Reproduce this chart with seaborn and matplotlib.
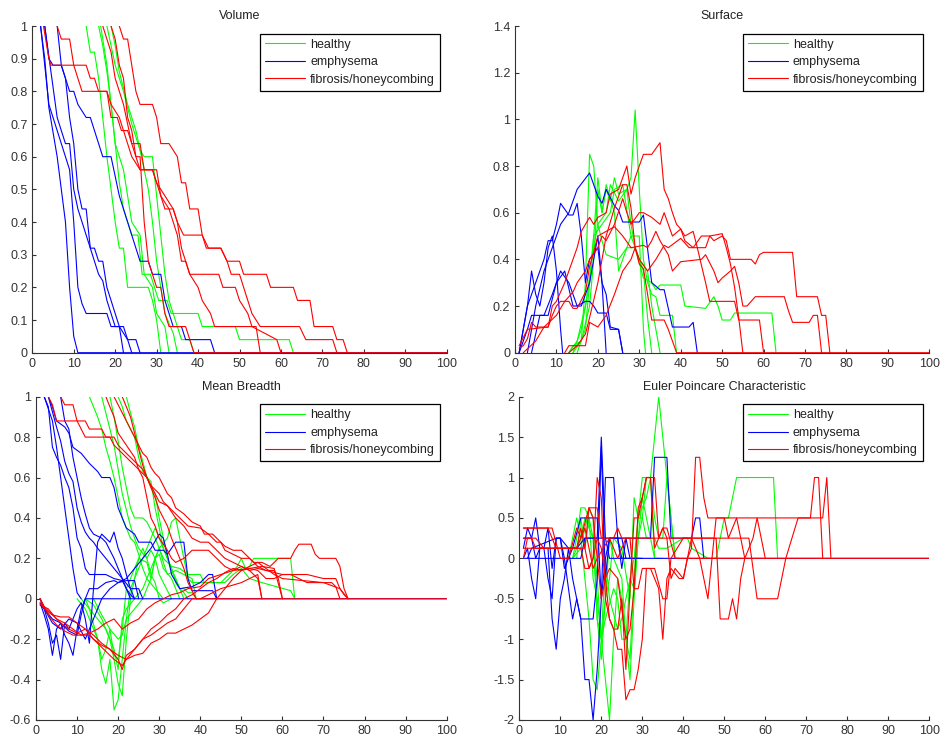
import matplotlib
matplotlib.use("Agg")
import matplotlib.pyplot as plt
import pandas as pd
import seaborn as sns
from matplotlib.lines import Line2D
from matplotlib.ticker import FuncFormatter

CLASSES = ["healthy", "emphysema", "fibrosis/honeycombing"]
COLORS = ["#00ff00", "#0000ff", "#ff0000"]

# each curve is a list of (threshold, value) vertices
VOLUME_HEALTHY = [
    [(13, 1), (14, 0.92), (15, 0.92), (16, 0.84), (17, 0.72), (18, 0.6), (19, 0.5), (20, 0.4), (21, 0.32), (22, 0.32), (23, 0.2), (28, 0.2), (29, 0.16), (30, 0.1), (31, 0)],
    [(16, 1), (17, 0.94), (18, 0.86), (19, 0.76), (20, 0.64), (21, 0.52), (22, 0.44), (23, 0.4), (24, 0.36), (25.5, 0.36), (26.5, 0.24), (28.5, 0.24), (30.5, 0.16), (32.5, 0.16), (33.5, 0.12), (40, 0.12), (41, 0.08), (49, 0.08), (50, 0.04), (62, 0.04), (63, 0)],
    [(16.5, 1), (18, 0.88), (19, 0.76), (20, 0.64), (22, 0.56), (23, 0.48), (24, 0.4), (26, 0.36), (27, 0.24), (29, 0.2), (30, 0.12), (32, 0.08), (33, 0)],
    [(19, 1), (20, 0.94), (21, 0.86), (23, 0.76), (25, 0.68), (26, 0.62), (27, 0.6), (29, 0.6), (30, 0.48), (31, 0.36), (32, 0.24), (33, 0.16), (34, 0.12), (35, 0.08), (36, 0.04), (38, 0.04), (39, 0)],
    [(18, 1), (19, 0.94), (20, 0.88), (22, 0.8), (24, 0.7), (26, 0.62), (28, 0.5), (29, 0.4), (30, 0.28), (31, 0.2), (32, 0.12), (34, 0.06), (35, 0)],
]
VOLUME_EMPHYSEMA = [
    [(2, 1), (3, 0.9), (4, 0.75), (6, 0.6), (8, 0.4), (9, 0.2), (10, 0.05), (11, 0), (100, 0)],
    [(2, 1), (4, 0.76), (5, 0.72), (7, 0.64), (9, 0.56), (10, 0.4), (11, 0.2), (12, 0.15), (13, 0.12), (18, 0.12), (19, 0.08), (21, 0.08), (22, 0)],
    [(3, 1), (4, 0.9), (5, 0.88), (7, 0.88), (8, 0.84), (9, 0.8), (10, 0.8), (11, 0.76), (13, 0.72), (14, 0.72), (16, 0.64), (17, 0.6), (19, 0.6), (21, 0.48), (22, 0.44), (23, 0.4), (24, 0.36), (25, 0.32), (26, 0.28), (28, 0.28), (29, 0.24), (31, 0.24), (32, 0.16), (33, 0.12), (34, 0.08), (36, 0.08), (37, 0.04), (43, 0.04), (44, 0)],
    [(6, 1), (7, 0.88), (8, 0.84), (9, 0.72), (10, 0.64), (11, 0.5), (12, 0.44), (13, 0.44), (14, 0.32), (15, 0.32), (16, 0.28), (17, 0.28), (18, 0.2), (19, 0.16), (20, 0.12), (21, 0.08), (23, 0.04), (24, 0)],
    [(3, 1), (6, 0.72), (8, 0.64), (9, 0.64), (10, 0.5), (11, 0.44), (12, 0.4), (14, 0.32), (15, 0.28), (16, 0.24), (17, 0.22), (18, 0.16), (20, 0.08), (22, 0.08), (23, 0.04), (25, 0.04), (26, 0)],
]
VOLUME_FIBROSIS = [
    [(2.7, 1), (4, 0.9), (4.5, 0.88), (13, 0.88), (14, 0.84), (15, 0.84), (16, 0.8), (18, 0.8), (19, 0.72), (20.5, 0.72), (21.5, 0.68), (23, 0.68), (24, 0.64), (26, 0.64), (27, 0.56), (29, 0.56), (30, 0.52), (32, 0.48), (34, 0.44), (35, 0.4), (36.5, 0.36), (41, 0.36), (42.5, 0.32), (45.5, 0.32), (47, 0.28), (48, 0.24), (50, 0.24), (51, 0.2), (52, 0.16), (53, 0.12), (55, 0.08), (64.5, 0.08), (66, 0.04), (72.5, 0.04), (73.5, 0)],
    [(6, 1), (7, 0.96), (9, 0.96), (10, 0.88), (11, 0.84), (12, 0.8), (18, 0.8), (19, 0.76), (21, 0.72), (22, 0.68), (23, 0.64), (24, 0.6), (26, 0.56), (29, 0.56), (30, 0.52), (31, 0.48), (33, 0.44), (34, 0.4), (35, 0.36), (36, 0.28), (37, 0.28), (38, 0.24), (45, 0.24), (46, 0.2), (49, 0.2), (50, 0.16), (52, 0.12), (53, 0.08), (59, 0.04), (60, 0)],
    [(21, 1), (22, 0.96), (23, 0.96), (24, 0.88), (25, 0.8), (26, 0.76), (29, 0.76), (30, 0.72), (31, 0.64), (33, 0.64), (35, 0.6), (36, 0.52), (37, 0.52), (38, 0.44), (40, 0.44), (41, 0.36), (42, 0.32), (45.5, 0.32), (47, 0.28), (50, 0.28), (51, 0.24), (56.5, 0.24), (57.5, 0.2), (63, 0.2), (64, 0.16), (67, 0.16), (68, 0.08), (72.5, 0.08), (73.5, 0.04), (75, 0.04), (76, 0)],
    [(17, 1), (18, 0.96), (19, 0.92), (20, 0.84), (21, 0.8), (22, 0.76), (24, 0.64), (25, 0.6), (26, 0.6), (27, 0.4), (28, 0.28), (29, 0.24), (30, 0.2), (31, 0.2), (32, 0.12), (33, 0.08), (37, 0.08), (38, 0.04), (39, 0), (100, 0)],
    [(19, 1), (20, 0.96), (21, 0.88), (22, 0.84), (23, 0.72), (24, 0.68), (25, 0.6), (26, 0.56), (30, 0.56), (31, 0.48), (32, 0.44), (34, 0.44), (35, 0.4), (36, 0.32), (37, 0.28), (38, 0.24), (40, 0.2), (41, 0.16), (43, 0.12), (44, 0.08), (54, 0.08), (55, 0)],
]

SURFACE_HEALTHY = [
    [(13, 0), (14, 0.03), (16, 0.05), (17, 0.3), (18, 0.85), (19, 0.8), (20, 0.55), (21, 0.48), (22, 0.42), (25, 0.4), (27, 0.45), (29, 0.45), (31, 0.32), (33, 0.3), (34, 0.27), (35, 0.29), (40, 0.29), (41, 0.2), (46, 0.19), (48, 0.24), (49, 0.2), (50, 0.14), (52, 0.14), (53, 0.17), (62, 0.17), (63, 0)],
    [(15, 0), (17, 0.1), (18, 0.3), (19, 0.5), (20, 0.75), (21, 0.6), (22, 0.7), (23, 0.65), (24, 0.75), (25, 0.68), (27, 0.7), (28, 0.75), (29, 1.04), (30, 0.7), (31, 0.4), (32, 0.3), (33, 0.25), (34, 0.24), (35, 0.16), (38, 0.16), (39, 0)],
    [(14, 0), (16, 0.05), (18, 0.2), (19, 0.4), (20, 0.7), (21, 0.6), (22, 0.72), (24, 0.6), (25, 0.35), (27, 0.45), (28, 0.5), (30, 0.5), (31, 0.1), (31.5, 0)],
    [(13, 0), (15, 0.05), (17, 0.2), (19, 0.45), (20, 0.55), (22, 0.6), (23, 0.72), (25, 0.65), (27, 0.7), (28, 0.55), (29, 0.45), (31, 0.35), (32, 0.15), (33, 0)],
    [(14, 0), (16, 0.1), (18, 0.3), (19, 0.5), (21, 0.55), (23, 0.6), (24, 0.7), (26, 0.72), (28, 0.5), (30, 0.4), (32, 0.35), (33, 0.2), (34, 0.1), (35, 0)],
]
SURFACE_EMPHYSEMA = [
    [(1, 0), (2, 0.1), (3, 0.2), (4, 0.35), (5, 0.25), (6, 0.2), (7, 0.3), (8, 0.45), (9, 0.5), (10, 0.35), (11, 0.1), (11.5, 0)],
    [(1, 0), (2, 0.05), (3, 0.1), (4, 0.16), (7, 0.16), (9, 0.25), (11, 0.35), (13, 0.3), (15, 0.2), (17, 0.22), (18, 0.22), (19, 0.2), (20, 0.17), (22, 0.17), (23, 0.1), (25, 0.1), (26, 0)],
    [(3, 0), (5, 0.2), (7, 0.35), (9, 0.45), (11, 0.55), (13, 0.6), (15, 0.7), (18, 0.77), (20, 0.67), (21, 0.64), (22, 0.7), (24, 0.63), (25, 0.61), (26, 0.56), (30, 0.56), (31, 0.59), (33, 0.3), (35, 0.27), (36, 0.27), (38, 0.11), (42, 0.11), (43, 0.13), (44, 0)],
    [(4, 0), (6, 0.16), (8, 0.16), (10, 0.3), (12, 0.35), (14, 0.2), (16, 0.2), (18, 0.3), (20, 0.5), (21, 0.3), (22, 0.25), (23, 0.11), (25, 0.1), (26, 0)],
    [(1, 0), (3, 0.2), (5, 0.3), (7, 0.4), (8, 0.48), (9, 0.48), (10, 0.55), (11, 0.64), (13, 0.59), (14, 0.59), (15, 0.64), (16, 0.5), (17, 0.3), (18, 0.4), (20, 0.45), (21, 0.3), (22, 0)],
]
SURFACE_FIBROSIS = [
    [(1, 0.02), (2, 0.03), (3, 0.06), (4, 0.13), (5, 0.11), (8, 0.11), (9, 0.16), (10, 0.2), (11, 0.22), (13, 0.22), (14, 0.19), (15, 0.19), (17, 0.26), (18, 0.37), (19, 0.43), (20, 0.5), (22, 0.52), (24, 0.54), (26, 0.5), (28, 0.45), (31, 0.46), (32, 0.45), (33, 0.48), (34, 0.52), (35, 0.48), (36, 0.45), (37, 0.42), (38, 0.35), (40, 0.39), (45, 0.4), (46, 0.42), (48, 0.35), (49, 0.3), (50, 0.32), (52, 0.35), (53, 0.37), (54, 0.3), (55, 0.2), (56, 0.2), (57, 0.22), (58, 0.24), (65, 0.24), (66, 0.18), (67, 0.13), (71, 0.13), (72, 0.16), (73, 0.16), (74, 0)],
    [(2, 0), (5, 0.05), (7, 0.11), (10, 0.16), (12, 0.22), (14, 0.26), (15, 0.3), (17, 0.35), (18, 0.4), (20, 0.45), (21, 0.5), (22, 0.48), (24, 0.55), (26, 0.66), (27, 0.6), (28, 0.55), (30, 0.6), (31, 0.6), (33, 0.58), (35, 0.55), (36, 0.6), (38, 0.5), (40, 0.53), (41, 0.48), (43, 0.45), (45, 0.5), (47, 0.5), (48, 0.48), (50, 0.5), (51, 0.48), (52, 0.4), (57, 0.4), (58, 0.38), (59, 0.42), (60, 0.43), (67, 0.43), (68, 0.24), (73, 0.24), (74, 0.16), (75, 0.16), (76, 0)],
    [(1, 0.03), (3, 0.1), (8, 0.11), (9, 0.2), (10, 0.22), (12, 0.3), (15, 0.45), (16, 0.52), (18, 0.58), (19, 0.55), (20, 0.58), (22, 0.6), (23, 0.68), (25, 0.7), (27, 0.8), (28, 0.68), (29, 0.75), (30, 0.8), (31, 0.85), (33, 0.85), (35, 0.9), (36, 0.7), (37, 0.66), (38, 0.6), (39, 0.55), (40, 0.53), (41, 0.5), (43, 0.52), (44, 0.45), (46, 0.45), (47, 0.5), (50, 0.51), (51, 0.45), (52, 0.38), (53, 0.28), (54, 0.15), (55, 0)],
    [(12, 0), (13, 0.03), (17, 0.03), (18, 0.13), (20, 0.11), (22, 0.16), (24, 0.25), (26, 0.35), (28, 0.4), (29, 0.45), (30, 0.4), (32, 0.35), (34, 0.4), (36, 0.46), (37, 0.45), (40, 0.49), (42, 0.45), (44, 0.45), (46, 0.3), (47, 0.22), (53, 0.22), (54, 0.14), (59, 0.14), (60, 0)],
    [(13, 0), (15, 0.03), (17, 0.08), (18, 0.15), (20, 0.3), (22, 0.5), (24, 0.62), (26, 0.72), (27, 0.72), (28, 0.62), (29, 0.45), (30, 0.38), (31, 0.36), (33, 0.14), (36, 0.14), (37, 0.1), (38, 0.05), (39, 0), (100, 0)],
]

BREADTH_HEALTHY = [
    [(18, 1), (19, 0.9), (20, 0.78), (21, 0.65), (22, 0.55), (23, 0.45), (24, 0.4), (26, 0.4), (27, 0.38), (29, 0.3), (30, 0.25), (31, 0.2), (33, 0.16), (35, 0.15), (37, 0.12), (40, 0.12), (41, 0.08), (45, 0.08), (47, 0.12), (49, 0.16), (50, 0.2), (51, 0.15), (52, 0.16), (53, 0.2), (62, 0.2), (63, 0)],
    [(16, 1), (17, 0.92), (18, 0.84), (19, 0.76), (20, 0.64), (21, 0.52), (22, 0.44), (23, 0.36), (24, 0.3), (25, 0.25), (27, 0.2), (28, 0.24), (29, 0.2), (30, 0.12), (31, 0.08), (32, 0.04), (33, 0)],
    [(22, 1), (23, 0.92), (24, 0.85), (25, 0.75), (26, 0.68), (27, 0.6), (28, 0.55), (29, 0.52), (30, 0.4), (31, 0.3), (32, 0.2), (33, 0.15), (34, 0.1), (35, 0.05), (36, 0.05), (37, 0.03), (38, 0.03), (39, 0)],
    [(20, 1), (21, 0.95), (22, 0.88), (24, 0.8), (25, 0.7), (26, 0.63), (27, 0.6), (28, 0.58), (29, 0.45), (30, 0.35), (31, 0.25), (32, 0.2), (33, 0.14), (34, 0.1), (35, 0.05), (36, 0)],
    [(13, 1), (14, 0.95), (15, 0.9), (16, 0.84), (17, 0.75), (18, 0.68), (19, 0.6), (20, 0.5), (21, 0.4), (22, 0.35), (23, 0.3), (24, 0.28), (25, 0.22), (26, 0.15), (27, 0.1), (29, 0.05), (31, 0)],
    [(10, 0), (12, -0.05), (14, -0.15), (15, -0.2), (16, -0.35), (17, -0.42), (18, -0.3), (19, -0.55), (20, -0.5), (21, -0.3), (22, -0.1), (23, 0.05), (24, 0.1), (25, 0.15), (26, 0.2), (27, 0.25), (28, 0.3), (29, 0.35), (30, 0.3), (31, 0.25), (32, 0.2), (33, 0.15), (34, 0.08), (35, 0.05), (36, 0.03), (37, 0)],
    [(12, 0), (14, -0.03), (16, -0.1), (18, -0.2), (19, -0.3), (20, -0.42), (21, -0.48), (22, -0.2), (23, 0.0), (24, 0.1), (25, 0.2), (27, 0.18), (28, 0.1), (29, 0.2), (30, 0.22), (31, 0.15), (33, 0.1), (34, 0.05), (35, 0)],
    [(11, 0), (13, -0.05), (15, -0.1), (17, -0.15), (18, -0.2), (19, -0.25), (20, -0.35), (21, -0.1), (22, -0.05), (24, 0.0), (26, 0.05), (28, 0.15), (30, 0.25), (32, 0.3), (33, 0.38), (34, 0.4), (35, 0.3), (36, 0.2), (37, 0.1), (38, 0.08), (46, 0.08), (48, 0.12), (50, 0.15), (52, 0.1), (55, 0.08), (62, 0.04), (63, 0)],
    [(12, 0), (13, -0.05), (15, -0.2), (16, -0.3), (17, -0.25), (18, -0.15), (19, -0.28), (20, -0.3), (21, -0.15), (22, 0.05), (24, 0.15), (25, 0.2), (26, 0.25), (27, 0.2), (28, 0.12), (29, 0.08), (30, 0.0), (31, -0.02), (33, 0)],
    [(14, 0), (16, -0.08), (18, -0.15), (20, -0.2), (21, -0.18), (22, -0.1), (24, -0.05), (26, 0.0), (28, 0.1), (29, 0.2), (30, 0.25), (31, 0.18), (32, 0.12), (34, 0.14), (36, 0.12), (38, 0.1), (39, 0)],
]
BREADTH_EMPHYSEMA = [
    [(2, 1), (4, 0.88), (5, 0.75), (6, 0.6), (7, 0.45), (8, 0.3), (9, 0.15), (10, 0.03), (11, 0)],
    [(2, 1), (3, 0.95), (4, 0.75), (5, 0.7), (6, 0.66), (7, 0.6), (8, 0.55), (9, 0.45), (10, 0.3), (11, 0.25), (12, 0.15), (13, 0.12), (17, 0.12), (19, 0.1), (21, 0.09), (22, 0.05), (23, 0)],
    [(3, 1), (4, 0.95), (5, 0.88), (7, 0.85), (8, 0.82), (9, 0.75), (11, 0.72), (13, 0.67), (15, 0.63), (16, 0.6), (18, 0.6), (19, 0.55), (20, 0.45), (21, 0.4), (22, 0.35), (24, 0.32), (25, 0.28), (28, 0.28), (29, 0.24), (31, 0.24), (32, 0.22), (34, 0.28), (36, 0.28), (37, 0.1), (38, 0.04), (43, 0.04), (44, 0)],
    [(6, 1), (7, 0.88), (8, 0.84), (9, 0.7), (10, 0.6), (11, 0.5), (12, 0.42), (13, 0.35), (14, 0.32), (16, 0.3), (17, 0.28), (18, 0.24), (19, 0.2), (20, 0.15), (21, 0.1), (22, 0.05), (23, 0.02), (24, 0)],
    [(3, 1), (5, 0.85), (6, 0.78), (7, 0.68), (8, 0.62), (9, 0.58), (10, 0.45), (11, 0.38), (12, 0.33), (13, 0.3), (14, 0.28), (15, 0.25), (17, 0.2), (19, 0.15), (21, 0.1), (23, 0.05), (25, 0.05), (26, 0)],
    [(1, -0.02), (2, -0.08), (3, -0.15), (4, -0.28), (5, -0.15), (6, -0.12), (7, -0.18), (8, -0.22), (9, -0.28), (10, -0.15), (11, -0.05), (13, 0.05), (15, 0.05), (17, 0.08), (19, 0.09), (20, 0.08), (22, 0.09), (24, 0.09), (25, 0)],
    [(1, -0.03), (2, -0.05), (3, -0.12), (4, -0.22), (5, -0.18), (6, -0.3), (7, -0.12), (8, -0.15), (9, -0.1), (10, -0.05), (11, -0.02), (12, -0.1), (13, -0.22), (14, 0.05), (15, 0.28), (16, 0.32), (17, 0.3), (18, 0.28), (19, 0.33), (20, 0.25), (21, 0.2), (22, 0.12), (23, 0.05), (24, 0)],
    [(1, 0), (2, -0.05), (4, -0.12), (6, -0.15), (8, -0.1), (10, -0.12), (12, -0.2), (14, -0.1), (16, 0.0), (18, 0.05), (20, 0.08), (22, 0.1), (24, 0.15), (26, 0.2), (28, 0.25), (30, 0.32), (31, 0.3), (32, 0.22), (33, 0.12), (35, 0.05), (38, 0.06), (40, 0.08), (42, 0.12), (43, 0.12), (44, 0)],
    [(1, 0), (2, -0.05), (4, -0.1), (6, -0.12), (8, -0.16), (10, -0.18), (11, -0.08), (12, 0), (100, 0)],
]
BREADTH_FIBROSIS = [
    [(19, 1), (20, 0.96), (21, 0.92), (22, 0.88), (23, 0.84), (24, 0.8), (25, 0.76), (26, 0.72), (27, 0.7), (28, 0.65), (29, 0.62), (30, 0.6), (31, 0.56), (32, 0.52), (33, 0.5), (34, 0.45), (36, 0.42), (37, 0.4), (38, 0.38), (40, 0.36), (41, 0.32), (43, 0.32), (44, 0.3), (46, 0.26), (48, 0.24), (50, 0.24), (51, 0.22), (53, 0.18), (55, 0.18), (57, 0.16), (59, 0.2), (62, 0.2), (63, 0.24), (64, 0.27), (67, 0.27), (68, 0.22), (69, 0.2), (73, 0.2), (74, 0.16), (75, 0.05), (76, 0)],
    [(6, 1), (7, 0.96), (9, 0.96), (10, 0.88), (11, 0.84), (12, 0.8), (18, 0.8), (19, 0.76), (21, 0.72), (23, 0.68), (25, 0.64), (27, 0.6), (28, 0.56), (30, 0.52), (31, 0.48), (33, 0.44), (35, 0.4), (37, 0.36), (40, 0.35), (42, 0.32), (44, 0.28), (45, 0.28), (46, 0.24), (48, 0.22), (50, 0.2), (52, 0.2), (54, 0.16), (56, 0.14), (58, 0.13), (60, 0.12), (62, 0.12), (64, 0.1), (66, 0.08), (72, 0.08), (73, 0.06), (74, 0)],
    [(3, 1), (4, 0.96), (5, 0.88), (12, 0.88), (13, 0.84), (16, 0.84), (17, 0.8), (19, 0.8), (20, 0.76), (22, 0.72), (24, 0.68), (26, 0.64), (27, 0.6), (28, 0.56), (29, 0.52), (30, 0.48), (32, 0.46), (34, 0.4), (36, 0.36), (38, 0.3), (40, 0.28), (42, 0.28), (44, 0.24), (46, 0.2), (50, 0.16), (52, 0.14), (54, 0.15), (56, 0.14), (58, 0.14), (59, 0.1), (60, 0)],
    [(17, 1), (18, 0.95), (19, 0.9), (20, 0.82), (22, 0.76), (24, 0.7), (25, 0.64), (26, 0.6), (27, 0.5), (28, 0.4), (29, 0.36), (30, 0.3), (32, 0.24), (33, 0.2), (34, 0.18), (36, 0.2), (38, 0.24), (42, 0.24), (44, 0.2), (46, 0.16), (48, 0.14), (50, 0.16), (52, 0.14), (54, 0.1), (55, 0)],
    [(21, 1), (23, 0.9), (24, 0.82), (25, 0.74), (26, 0.66), (27, 0.6), (28, 0.55), (29, 0.5), (30, 0.44), (31, 0.4), (32, 0.36), (33, 0.3), (34, 0.25), (35, 0.2), (36, 0.15), (37, 0.08), (38, 0.04), (39, 0), (100, 0)],
    [(1, -0.03), (3, -0.05), (5, -0.1), (7, -0.12), (9, -0.15), (11, -0.18), (13, -0.18), (15, -0.22), (17, -0.26), (19, -0.3), (21, -0.33), (22, -0.3), (24, -0.28), (26, -0.27), (28, -0.22), (30, -0.2), (32, -0.17), (34, -0.17), (36, -0.15), (38, -0.13), (40, -0.1), (42, -0.07), (44, 0.0), (46, 0.05), (48, 0.1), (50, 0.14), (52, 0.15), (54, 0.14), (56, 0.1), (58, 0.1), (60, 0.12), (66, 0.12), (70, 0.1), (73, 0.1), (74, 0.05), (76, 0)],
    [(1, -0.02), (2, -0.05), (4, -0.08), (6, -0.12), (8, -0.15), (10, -0.17), (12, -0.15), (14, -0.2), (16, -0.23), (18, -0.25), (20, -0.3), (21, -0.35), (22, -0.28), (24, -0.25), (26, -0.2), (28, -0.15), (30, -0.12), (32, -0.08), (34, -0.05), (36, 0.0), (38, 0.02), (40, 0.05), (42, 0.08), (44, 0.1), (46, 0.13), (48, 0.15), (50, 0.14), (52, 0.16), (54, 0.18), (56, 0.15), (58, 0.12), (60, 0.1), (70, 0.08), (74, 0.05), (75, 0.02), (76, 0)],
    [(1, 0), (3, -0.08), (5, -0.13), (7, -0.16), (9, -0.18), (11, -0.18), (13, -0.17), (15, -0.15), (17, -0.12), (19, -0.1), (21, -0.15), (23, -0.12), (25, -0.1), (27, -0.05), (29, -0.02), (31, 0), (33, 0.02), (35, 0.03), (37, 0.05), (40, 0.06), (42, 0.1), (45, 0.12), (48, 0.14), (52, 0.15), (55, 0.16), (58, 0.15), (60, 0.0)],
    [(1, 0), (2, -0.04), (4, -0.08), (6, -0.09), (8, -0.09), (10, -0.12), (12, -0.15), (14, -0.18), (16, -0.22), (18, -0.25), (20, -0.28), (22, -0.3), (24, -0.25), (26, -0.2), (28, -0.18), (30, -0.15), (32, -0.12), (34, -0.1), (36, -0.05), (38, 0.0), (40, 0.0), (42, 0.02), (45, 0.05), (50, 0.08), (54, 0.12), (55, 0)],
]

EULER_HEALTHY = [
    [(13, 0), (14, 0.25), (15, 0.625), (16, 0.625), (17, 0.5), (18, 0.25), (19, -0.25), (20, -1.0), (21, -1.5), (22, -2.0), (23, -1.0), (24, -0.25), (25, -0.5), (26, -1.0), (27, -1.5), (28, -0.5), (29, 0.25), (30, 0.5), (31, 1.0), (32, 1.0), (33, 1.5), (34, 2.0), (35, 1.5), (36, 1.0), (37, 0.5), (38, 0.0), (39, 0)],
    [(12, 0), (14, 0.5), (15, 0.25), (16, -0.25), (17, -0.75), (18, -1.5), (19, -1.625), (20, -1.0), (21, -0.5), (22, 0.25), (23, 0.0), (25, -0.25), (26, -1.0), (27, -1.25), (28, -0.25), (29, 0.5), (30, 1.0), (32, 1.0), (33, 0.0), (34, 0)],
    [(13, 0), (15, 0.25), (16, 0.5), (17, 0.375), (18, 0.25), (19, -0.75), (20, -1.25), (21, -0.5), (22, -0.25), (23, 0.25), (25, 0.125), (27, -0.5), (28, 0.75), (29, 0.5), (30, 0.5), (31, 0.25), (33, 0.25), (34, 0.125), (36, 0.125), (40, 0.25), (41, 0.25), (42, 0.125), (46, 0.0), (48, 0.0), (50, 0.5), (51, 0.5), (53, 1.0), (62, 1.0), (63, 0)],
    [(14, 0), (15, 0.5), (16, 0.125), (17, 0.5), (18, -0.25), (19, -0.5), (20, -1.0), (21, 0.0), (22, -0.5), (24, -0.875), (25, -0.75), (26, -0.5), (27, -0.25), (28, -0.375), (29, 0.25), (30, 0.75), (31, 0.5), (32, 0.25), (33, 0.0), (35, 0)],
    [(13, 0), (15, 0.125), (17, 0.625), (18, 0.5), (19, -0.75), (20, -1.0), (21, -0.75), (23, -0.375), (24, -0.5), (25, -1.0), (26, -1.0), (27, -0.25), (28, 0.0), (29, 0.5), (31, 0.75), (32, 1.0), (33, 0.5), (34, 0.25), (35, 0.25), (36, 1.0), (37, 0.5), (38, 0.0), (39, 0)],
]
EULER_EMPHYSEMA = [
    [(1, 0.125), (2, 0.375), (3, 0.25), (4, 0), (5, 0.125), (6, 0.125), (7, 0.375), (8, -0.125), (9, 0.25), (10, 0.25), (11, 0.0), (12, -0.375), (13, -0.75), (14, -0.5), (15, -0.75), (18, -0.75), (19, -0.25), (20, 1.375), (21, -0.25), (22, 0.25), (25, 0.25), (26, 0.0), (30, 0)],
    [(1, 0), (2, 0.125), (3, -0.25), (4, -0.5), (5, 0.125), (6, 0.125), (7, -0.25), (8, -0.5), (9, 0.25), (10, 0.25), (11, -0.125), (13, 0.125), (15, 0.5), (19, 0.5), (20, -0.5), (21, 1.0), (23, 1.0), (24, 0.25), (26, 0.25), (27, 0)],
    [(1, 0.25), (3, 0.25), (4, 0.5), (5, 0.125), (7, 0.125), (8, -0.75), (9, -1.125), (10, -0.5), (11, -0.25), (12, 0.125), (13, -0.25), (14, -0.5), (15, -0.75), (16, -1.5), (17, -1.5), (18, -2.0), (19, -1.375), (20, -0.5), (21, 0.0), (22, 0.25), (24, 0.25), (25, 0.0), (26, 0)],
    [(2, 0), (3, 0.125), (9, 0.25), (10, 0.25), (12, 0.125), (14, 0.125), (16, 0.25), (19, 0.25), (20, 1.5), (21, 0.25), (24, 0.25), (25, -0.125), (26, 0.25), (32, 0.25), (33, 1.25), (36, 1.25), (37, 0.25), (42, 0.25), (43, 0.5), (44, 0.5), (45, 0)],
    [(1, 0), (15, 0), (16, 0.25), (21, 0.25), (22, 0.0), (33, 0), (100, 0)],
]
EULER_FIBROSIS = [
    [(1, 0.375), (8, 0.375), (10, 0.0), (12, 0.0), (14, 0.375), (15, 0.25), (17, 0.625), (19, 0.625), (20, 0.25), (23, 0.25), (24, 0.375), (25, 0.25), (27, 0.25), (28, -0.375), (29, -0.375), (30, -0.125), (32, -0.125), (34, -0.375), (35, -1.0), (36, -0.25), (37, -0.125), (39, -0.25), (40, -0.25), (41, 0.0), (42, 0.125), (43, 1.25), (44, 1.25), (45, 0.75), (46, 0.5), (71, 0.5), (72, 1.0), (73, 1.0), (74, 0)],
    [(1, 0.25), (3, 0.25), (4, 0.125), (16, 0.125), (17, -0.125), (18, 0.0), (19, 1.0), (20, 0.75), (21, -0.5), (22, -0.75), (23, -0.875), (24, -1.125), (25, -1.125), (26, -1.75), (27, -1.625), (28, -1.625), (29, -1.375), (30, -1.0), (31, -0.125), (33, -0.125), (35, -0.5), (36, -0.5), (37, 0.0), (40, 0.25), (42, 0.25), (44, 0.0), (46, -0.5), (47, 0.0), (48, 0.5), (50, 0.5), (51, 0.25), (53, 0.5), (55, 0.0), (57, 0.25), (58, 0.5), (59, 0.25), (60, 0)],
    [(1, 0.125), (14, 0.125), (15, 0.375), (16, 0.125), (17, 0.625), (18, 0.5), (19, 0.0), (20, -0.5), (21, -0.25), (22, -0.125), (24, -0.25), (25, -0.625), (26, -1.0), (27, -0.875), (28, -0.375), (29, 0.625), (30, 0.75), (31, 1.0), (33, 1.0), (34, 0.25), (35, 0.375), (36, 0.25), (37, -0.25), (38, -0.125), (40, -0.25), (41, 0.0), (42, 0.25), (48, 0.25), (49, -0.75), (51, -0.75), (52, -0.5), (53, -0.75), (54, -0.25), (55, 0)],
    [(1, 0), (2, 0.25), (4, 0.25), (6, 0.125), (15, 0.125), (16, -0.125), (17, -0.125), (18, 0.0), (19, 0.25), (20, 0.125), (21, -0.25), (22, -0.75), (23, -0.875), (24, -0.875), (25, -0.5), (26, -1.375), (27, -0.375), (28, 0.5), (29, 0.5), (30, 0.75), (31, 1.0), (32, 1.0), (33, 0.125), (35, 0.375), (36, 0.375), (38, 0.0), (39, 0), (100, 0)],
    [(1, 0.375), (7, 0.375), (9, 0.125), (14, 0.125), (16, 0.375), (18, -0.125), (19, 0.0), (22, 0.25), (24, 0.0), (26, 0.25), (56, 0.25), (58, -0.5), (63, -0.5), (65, 0.0), (68, 0.5), (74, 0.5), (75, 1.0), (76, 0)],
]


def to_frame(groups):
    rows = []
    for cls, curves in zip(CLASSES, groups):
        for i, curve in enumerate(curves):
            for x, y in curve:
                rows.append((cls, f"{cls}-{i}", x, y))
    return pd.DataFrame(rows, columns=["class", "curve", "x", "y"])


def fmt(v, _pos):
    return f"{v:g}"


def draw_panel(ax, title, groups, ylim, ystep):
    df = to_frame(groups)
    sns.lineplot(data=df, x="x", y="y", hue="class", units="curve", estimator=None,
                 sort=False, hue_order=CLASSES, palette=COLORS, lw=0.8,
                 legend=False, ax=ax)
    ax.set_xlim(0, 100)
    ax.set_ylim(*ylim)
    ax.set_xticks(range(0, 101, 10))
    n = int(round((ylim[1] - ylim[0]) / ystep))
    ax.set_yticks([round(ylim[0] + k * ystep, 3) for k in range(n + 1)])
    ax.xaxis.set_major_formatter(FuncFormatter(fmt))
    ax.yaxis.set_major_formatter(FuncFormatter(fmt))
    ax.set_xlabel("")
    ax.set_ylabel("")
    ax.set_title(title, fontsize=9, pad=5)
    sns.despine(ax=ax)
    handles = [Line2D([], [], color=c, lw=0.8) for c in COLORS]
    leg = ax.legend(handles, CLASSES, loc="upper right", bbox_to_anchor=(0.984, 0.976),
                    fontsize=9, frameon=True, fancybox=False, framealpha=1,
                    edgecolor="black", handlelength=3.2, handletextpad=0.4,
                    labelspacing=0.44, borderpad=0.4, borderaxespad=0)
    leg.get_frame().set_linewidth(0.9)


sns.set_theme(style="white")
plt.rcParams["font.family"] = ["Liberation Sans", "DejaVu Sans"]
plt.rcParams.update({
    "xtick.direction": "in", "ytick.direction": "in",
    "xtick.major.size": 3, "ytick.major.size": 3,
    "xtick.major.width": 0.8, "ytick.major.width": 0.8,
    "xtick.bottom": True, "ytick.left": True,
    "xtick.labelsize": 9, "ytick.labelsize": 9,
    "xtick.major.pad": 3.5, "ytick.major.pad": 3.5,
    "axes.edgecolor": "#333333", "axes.linewidth": 0.8,
    "xtick.color": "#333333", "ytick.color": "#333333",
    "text.color": "#222222",
})

fig = plt.figure(figsize=(9.4, 7.38), dpi=100)
W, H = 940, 738


def add_axes(x0, x1, ytop, ybot):
    return fig.add_axes([x0 / W, 1 - ybot / H, (x1 - x0) / W, (ybot - ytop) / H])


ax_vol = add_axes(32.3, 446.7, 26, 352.7)
ax_sur = add_axes(515, 929.3, 26, 352.7)
ax_mb = add_axes(36, 446.7, 396.7, 720)
ax_eul = add_axes(519.3, 929.3, 396.7, 720)

draw_panel(ax_vol, "Volume", [VOLUME_HEALTHY, VOLUME_EMPHYSEMA, VOLUME_FIBROSIS], (0, 1), 0.1)
draw_panel(ax_sur, "Surface", [SURFACE_HEALTHY, SURFACE_EMPHYSEMA, SURFACE_FIBROSIS], (0, 1.4), 0.2)
draw_panel(ax_mb, "Mean Breadth", [BREADTH_HEALTHY, BREADTH_EMPHYSEMA, BREADTH_FIBROSIS], (-0.6, 1), 0.2)
draw_panel(ax_eul, "Euler Poincare Characteristic", [EULER_HEALTHY, EULER_EMPHYSEMA, EULER_FIBROSIS], (-2, 2), 0.5)

fig.savefig("out.png", dpi=100)
